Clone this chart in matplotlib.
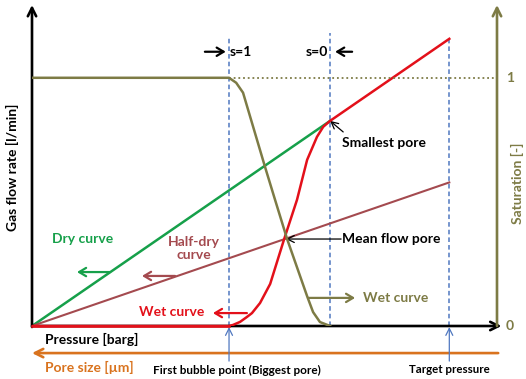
import matplotlib
matplotlib.use("Agg")
import matplotlib.pyplot as plt

plt.rcParams.update({
    'font.family': ['Lato', 'DejaVu Sans'],
    'font.weight': 'bold',
    'font.size': 10,
})

# Schematic pressure units (barg) and flow units (l/min)
p_bubble = 6.61      # first bubble point (biggest pore)
p_smallest = 10.0    # smallest pore, s=0
p_target = 14.0      # target pressure

dry_p = [0.0, 10.0]
dry_q = [0.0, 10.0]

halfdry_p = [0.0, 14.0]
halfdry_q = [0.0, 7.0]

wet_p = [0.0, 6.61, 6.74, 6.98, 7.21, 7.38, 7.65, 7.99, 8.46, 8.89, 9.23, 9.56, 9.77, 10.0, 14.0]
wet_q = [0.0, 0.0, 0.05, 0.2, 0.44, 0.63, 1.12, 2.05, 4.24, 6.15, 8.1, 9.22, 9.71, 10.0, 14.0]

sat_p = [0.0, 6.61, 6.85, 7.08, 7.82, 8.15, 8.56, 9.23, 9.43, 9.66, 10.0]
sat_s = [1.0, 1.0, 0.98, 0.94, 0.64, 0.51, 0.35, 0.12, 0.056, 0.016, 0.0]

mean_flow = (8.52, 4.24)

GREEN = '#16a04a'
RED = '#e3101a'
BROWN = '#a44a4f'
OLIVE = '#7d7b45'
BLUE = '#5078c0'
ORANGE = '#d9731e'

fig = plt.figure(figsize=(5.26, 3.79), dpi=100)
ax = fig.add_axes([32 / 526, 53 / 379, 465 / 526, 320 / 379])
ax.set_xlim(0, 15.6)
ax.set_ylim(0, 15.6)
ax.axis('off')

ax2 = ax.twinx()
ax2.set_ylim(0, 15.6 / 12.1)
ax2.axis('off')

# vertical dashed guides
for p, top in [(p_bubble, 14.05), (p_smallest, 14.3), (p_target, 14.0)]:
    ax.plot([p, p], [0, top], ls=(0, (3, 2)), color=BLUE, lw=1.1, zorder=1)

# saturation = 1 dotted line
ax2.plot([p_bubble, 15.6], [1, 1], ls=(0, (1, 1.6)), color=OLIVE, lw=1.3, zorder=1)

# curves
ax.plot(dry_p, dry_q, color=GREEN, lw=1.8, zorder=3)
ax.plot(halfdry_p, halfdry_q, color=BROWN, lw=1.5, zorder=3)
ax.plot(wet_p, wet_q, color=RED, lw=1.8, zorder=4)
ax2.plot(sat_p, sat_s, color=OLIVE, lw=1.8, zorder=3)

# axes arrows
arrow_k = dict(arrowstyle='->,head_length=0.6,head_width=0.3', lw=1.9, shrinkA=0, shrinkB=0)
ax.annotate('', xy=(0, 15.65), xytext=(0, -0.05), annotation_clip=False,
            arrowprops=dict(color='black', **arrow_k))
ax.annotate('', xy=(15.75, 0), xytext=(0, 0), annotation_clip=False,
            arrowprops=dict(color='black', **arrow_k), zorder=2)
ax.annotate('', xy=(15.6, 15.65), xytext=(15.6, 0), annotation_clip=False,
            arrowprops=dict(color=OLIVE, **arrow_k))
ax.annotate('', xy=(0, -1.32), xytext=(15.64, -1.32), annotation_clip=False,
            arrowprops=dict(color=ORANGE, **arrow_k))
# wet curve base drawn over x axis
ax.plot([0, p_bubble], [0, 0], color=RED, lw=1.9, zorder=5, clip_on=False)

# axis labels
ax.text(-0.67, 7.76, 'Gas flow rate [l/min]', rotation=90, ha='center', va='center')
ax.text(16.28, 6.98, 'Saturation [-]', rotation=90, ha='center', va='center', color=OLIVE)
ax2.text(16.04, 1, '1', ha='center', va='center', color=OLIVE)
ax2.text(16.04, 0, '0', ha='center', va='center', color=OLIVE)
ax.text(0.44, -0.68, 'Pressure [barg]', ha='left', va='center')
ax.text(0.44, -2.0, 'Pore size [µm]', ha='left', va='center', color=ORANGE)
ax.text(6.88, -2.15, 'First bubble point (Biggest pore)', ha='center', va='center',
        fontsize=8.5)
ax.text(14.0, -2.1, 'Target pressure', ha='center', va='center', fontsize=8.3)

thin = dict(arrowstyle='->,head_length=0.5,head_width=0.25', lw=0.9, shrinkA=0, shrinkB=0)
for p in (p_bubble, p_target):
    ax.annotate('', xy=(p, -0.05), xytext=(p, -1.71), annotation_clip=False,
                arrowprops=dict(color=BLUE, **thin))

# s=1 / s=0 markers
big = dict(arrowstyle='->,head_length=0.5,head_width=0.3', lw=1.6, shrinkA=0, shrinkB=0)
ax.annotate('', xy=(6.5, 13.37), xytext=(5.8, 13.37), arrowprops=dict(color='black', **big))
ax.text(6.64, 13.37, 's=1', ha='left', va='center')
ax.annotate('', xy=(10.17, 13.37), xytext=(10.74, 13.37), arrowprops=dict(color='black', **big))
ax.text(9.93, 13.37, 's=0', ha='right', va='center')

# pore annotations
ax.annotate('', xy=(10.0, 10.0), xytext=(10.44, 9.46),
            arrowprops=dict(color='black', **thin))
ax.text(10.4, 8.93, 'Smallest pore', ha='left', va='center')
ax.annotate('', xy=mean_flow, xytext=(10.37, 4.24),
            arrowprops=dict(color='black', **thin))
ax.text(10.4, 4.24, 'Mean flow pore', ha='left', va='center')

# curve labels
ax.text(1.69, 4.24, 'Dry curve', ha='center', va='center', color=GREEN)
ax.annotate('', xy=(1.51, 2.63), xytext=(2.62, 2.63), arrowprops=dict(color=GREEN, **big))
ax.text(5.44, 3.76, 'Half-dry\ncurve', ha='center', va='center', color=BROWN,
        linespacing=1.1)
ax.annotate('', xy=(3.69, 2.44), xytext=(4.8, 2.44), arrowprops=dict(color=BROWN, **big))
ax.text(4.68, 0.68, 'Wet curve', ha='center', va='center', color=RED)
ax.annotate('', xy=(6.07, 0.63), xytext=(7.21, 0.63), arrowprops=dict(color=RED, **big))
ax.text(12.2, 1.37, 'Wet curve', ha='center', va='center', color=OLIVE)
ax.annotate('', xy=(10.84, 1.37), xytext=(9.26, 1.37), arrowprops=dict(color=OLIVE, **big))

fig.savefig('out.png', dpi=100)
